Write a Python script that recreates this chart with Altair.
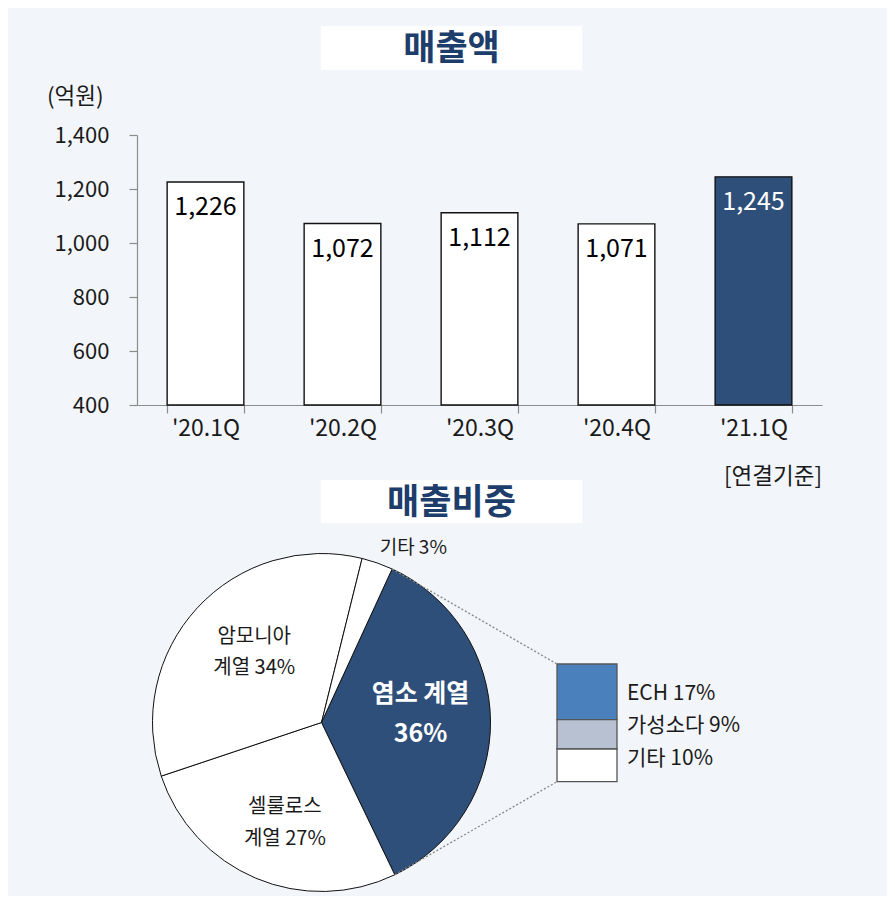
import math
import altair as alt
import pandas as pd

# ---------------- data ----------------
quarters = ["'20.1Q", "'20.2Q", "'20.3Q", "'20.4Q", "'21.1Q"]
sales = [1226, 1072, 1112, 1071, 1245]

segments = ["염소 계열", "셀룰로스 계열", "암모니아 계열", "기타"]
shares = [36, 27, 34, 3]
segment_labels = ["염소 계열\n36%", "셀룰로스\n계열 27%", "암모니아\n계열 34%", "기타 3%"]

sub_items = ["ECH", "가성소다", "기타"]
sub_shares = [17, 9, 10]

y_ticks = [400, 600, 800, 1000, 1200, 1400]

# ---------------- layout / style ----------------
W, H = 879, 888
FONT = "Noto Sans CJK KR"
BG = "#F2F5F9"
NAVY = "#2E4F7A"
TITLE_C = "#1D3D6B"
AX_C = "#8C8C8C"
TXT = "#1A1A1A"

# bar panel geometry (pixels inside the view)
BX0, BX1 = 129, 814
BY_BOT, BY_TOP = 397, 127

# pie geometry
CX, CY, R = 313.5, 714.5, 169
A0 = math.radians(24.7)

# stacked detail bar geometry
SX0, SX1 = 549, 609
SY_BOT, SY_TOP = 773.7, 656
LAB_TOP, LAB_BOT = 669.3, 766.8

# ---------------- bar chart ----------------
bar_df = pd.DataFrame({"q": quarters, "v": sales})
bar_df["label"] = [f"{v:,}" for v in sales]
bar_df["fill"] = ["white"] * (len(sales) - 1) + [NAVY]
bar_df["tcol"] = ["#000000"] * (len(sales) - 1) + ["white"]

x_enc = alt.X(
    "q:N", sort=quarters,
    scale=alt.Scale(range=[BX0, BX1], paddingInner=0.44, paddingOuter=0.22),
    axis=alt.Axis(title=None, orient="bottom", offset=-(H - BY_BOT), labelAngle=0,
                  tickBand="extent", domainColor=AX_C, tickColor=AX_C, tickSize=8,
                  domainWidth=1.2, tickWidth=1.2,
                  labelFont=FONT, labelFontSize=23, labelColor=TXT, labelPadding=4,
                  grid=False),
)
y_enc = alt.Y(
    "v:Q",
    scale=alt.Scale(domain=[400, 1400], range=[BY_BOT, BY_TOP], nice=False, zero=False),
    axis=alt.Axis(title=None, orient="left", offset=-BX0, values=y_ticks, format=",d",
                  domainColor=AX_C, tickColor=AX_C, tickSize=8, domainWidth=1.2, tickWidth=1.2,
                  labelFont=FONT, labelFontSize=22, labelColor=TXT, labelPadding=20,
                  grid=False),
)

bars = alt.Chart(bar_df).mark_bar(stroke="#111111", strokeWidth=1.4).encode(
    x=x_enc, y=y_enc, y2=alt.datum(400),
    fill=alt.Fill("fill:N", scale=None),
)
bar_labels = alt.Chart(bar_df).mark_text(
    baseline="middle", dy=25, fontSize=25, font=FONT
).encode(
    x=alt.X("q:N", sort=quarters), y=alt.Y("v:Q"),
    text="label:N", color=alt.Color("tcol:N", scale=None),
)
bar_layer = alt.layer(bars, bar_labels)

# ---------------- pie ----------------
n = len(shares)
pie_df = pd.DataFrame({
    "seg": segments, "share": shares, "ord": list(range(n)),
    "fill": [NAVY, "white", "white", "white"],
})
for i in range(n):
    pie_df[f"lbl{i}"] = [segment_labels[i] if j == i else "" for j in range(n)]

theta = alt.Theta("share:Q", stack=True,
                  scale=alt.Scale(domain=[0, 100], range=[A0, A0 + 2 * math.pi]))
order = alt.Order("ord:Q")
cx, cy = alt.value(CX), alt.value(CY)

arcs = alt.Chart(pie_df).mark_arc(outerRadius=R, stroke="#111111", strokeWidth=1).encode(
    theta=theta, order=order, x=cx, y=cy, fill=alt.Fill("fill:N", scale=None),
)


def pie_text(col, **kw):
    return alt.Chart(pie_df).mark_text(font=FONT, lineBreak="\n", baseline="middle", **kw).encode(
        theta=theta, order=order, x=cx, y=cy, text=f"{col}:N")


pie_light = pie_text("lbl0", radius=99, fontSize=25, fontWeight="bold", color="white",
                     lineHeight=40, align="center", dy=-28)
pie_cell = pie_text("lbl1", radius=107, fontSize=20, color=TXT, lineHeight=32,
                    align="center", dx=5, dy=-14)
pie_amm = pie_text("lbl2", radius=97, fontSize=20, color=TXT, lineHeight=31,
                   align="center", dx=4, dy=-20)
pie_etc = pie_text("lbl3", radius=185, fontSize=19, color=TXT, align="left", dx=-3)
pie_layer = alt.layer(arcs, pie_light, pie_cell, pie_amm, pie_etc)

# ---------------- stacked detail bar ----------------
sub_df = pd.DataFrame({"item": sub_items, "share": sub_shares})
sub_df["ord"] = list(range(len(sub_items)))[::-1]  # first item on top
sub_df["grp"] = "g"
sub_df["fill"] = ["#4A80BC", "#B7C1D1", "white"]
sub_df["label"] = [f"{nm} {s}%" for nm, s in zip(sub_items, sub_shares)]
total_sub = sum(sub_shares)

stack_bars = alt.Chart(sub_df).mark_bar(stroke="#555555", strokeWidth=1.3).encode(
    x=alt.X("grp:N", scale=alt.Scale(range=[SX0, SX1], paddingInner=0, paddingOuter=0), axis=None),
    y=alt.Y("share:Q", stack=True,
            scale=alt.Scale(domain=[0, total_sub], range=[SY_BOT, SY_TOP], nice=False, zero=True),
            axis=None),
    order=alt.Order("ord:Q"),
    fill=alt.Fill("fill:N", scale=None),
)
stack_labels = alt.Chart(sub_df).mark_text(
    align="left", baseline="middle", fontSize=21, font=FONT, color=TXT
).encode(
    x=alt.value(SX1 + 10),
    y=alt.Y("item:N", sort=sub_items,
            scale=alt.Scale(range=[LAB_TOP, LAB_BOT], paddingInner=0, paddingOuter=0), axis=None),
    text="label:N",
)

# ---------------- connectors (pie edge -> detail bar) ----------------
ang1 = A0
ang2 = A0 + shares[0] / 100 * 2 * math.pi
conn_df = pd.DataFrame({
    "x1": [CX + R * math.sin(ang1), CX + R * math.sin(ang2)],
    "y1": [CY - R * math.cos(ang1), CY - R * math.cos(ang2)],
    "x2": [SX0, SX0],
    "y2": [SY_TOP, SY_BOT],
})
connectors = alt.Chart(conn_df).mark_rule(
    strokeDash=[2, 2], color="#8A8A8A", strokeWidth=1.3
).encode(
    x=alt.X("x1:Q", scale=None, axis=None), y=alt.Y("y1:Q", scale=None, axis=None),
    x2="x2:Q", y2="y2:Q",
)

# ---------------- annotations ----------------
one = pd.DataFrame({"k": [0]})


def title_box(text, x0, x1, y0, y1, size):
    box = alt.Chart(one).mark_rect(fill="white").encode(
        x=alt.value(x0), x2=alt.value(x1), y=alt.value(y0), y2=alt.value(y1))
    txt = alt.Chart(one).mark_text(
        text=text, font=FONT, fontSize=size, fontWeight="bold", color=TITLE_C,
        align="center", baseline="middle"
    ).encode(x=alt.value((x0 + x1) / 2), y=alt.value((y0 + y1) / 2 + 1))
    return [box, txt]


def note(text, x, y, align):
    return alt.Chart(one).mark_text(
        text=text, font=FONT, fontSize=22.5, color=TXT, align=align, baseline="middle"
    ).encode(x=alt.value(x), y=alt.value(y))


annotations = (
    title_box("매출액", 313, 574, 18, 62, 35)
    + title_box("매출비중", 313, 574, 472, 515, 35)
    + [note("(억원)", 39, 89, "left"), note("[연결기준]", 814, 469, "right")]
)

chart = alt.layer(
    bar_layer, pie_layer, alt.layer(stack_bars), stack_labels, connectors, *annotations
).resolve_scale(
    x="independent", y="independent"
).properties(
    width=W, height=H, padding=0, autosize="none", background=BG
).configure_view(stroke=None)

chart.save("out.html", embed_options={"renderer": "svg", "actions": False})
